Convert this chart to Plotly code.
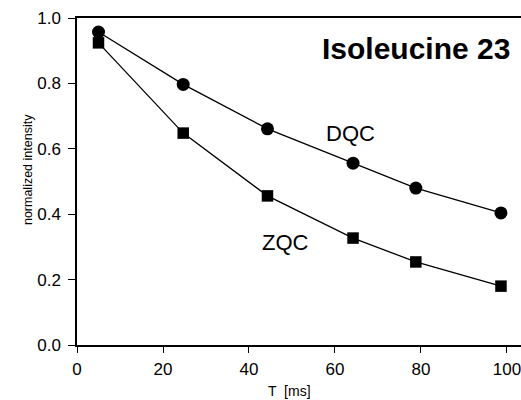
import plotly.graph_objects as go

t_ms = [5, 24.7, 44.3, 64.2, 78.8, 98.6]
dqc = [0.957, 0.797, 0.661, 0.556, 0.480, 0.404]
zqc = [0.924, 0.648, 0.456, 0.327, 0.254, 0.180]

x_ticks = [0, 20, 40, 60, 80, 100]
y_ticks = [0.0, 0.2, 0.4, 0.6, 0.8, 1.0]

FONT = "Liberation Sans, Arial, sans-serif"

fig = go.Figure()
fig.add_trace(go.Scatter(x=t_ms, y=dqc, mode="lines+markers", name="DQC",
                         line=dict(color="black", width=1.3),
                         marker=dict(symbol="circle", size=13, color="black")))
fig.add_trace(go.Scatter(x=t_ms, y=zqc, mode="lines+markers", name="ZQC",
                         line=dict(color="black", width=1.3),
                         marker=dict(symbol="square", size=11.5, color="black")))

fig.update_layout(
    width=521, height=400,
    margin=dict(l=77, r=0, t=18, b=55),
    paper_bgcolor="white", plot_bgcolor="white",
    showlegend=False,
    font=dict(family=FONT, color="black", size=17),
    xaxis=dict(range=[0, 103.26], tickvals=x_ticks, ticks="outside", ticklen=6,
               tickwidth=1.2, tickcolor="black", showline=True, linecolor="black",
               linewidth=1.5, mirror=True, showgrid=False, zeroline=False,
               tickfont=dict(size=17), ticklabeloverflow="allow",
               ticklabelstandoff=2),
    yaxis=dict(range=[0, 1.0], tickvals=y_ticks, tickformat=".1f", ticks="outside",
               ticklen=7, tickwidth=1.2, tickcolor="black", showline=True,
               linecolor="black", linewidth=1.5, showgrid=False, zeroline=False,
               tickfont=dict(size=17), ticklabelstandoff=4),
)

fig.add_annotation(x=101.2, y=0.908, xref="x", yref="y", text="<b>Isoleucine 23</b>",
                   showarrow=False, xanchor="right", yanchor="middle",
                   font=dict(size=30, family=FONT))
fig.add_annotation(x=63.5, y=0.648, xref="x", yref="y", text="DQC",
                   showarrow=False, font=dict(size=22, family=FONT))
fig.add_annotation(x=48.6, y=0.312, xref="x", yref="y", text="ZQC",
                   showarrow=False, font=dict(size=22, family=FONT))
fig.add_annotation(x=-0.1306, y=0.535, xref="paper", yref="paper",
                   text="normalized intensity", textangle=-90, showarrow=False,
                   font=dict(size=12.5, family=FONT))
fig.add_annotation(x=0.4786, y=-0.142, xref="paper", yref="paper",
                   text="T  [ms]", showarrow=False, yanchor="middle",
                   font=dict(size=14, family=FONT))

fig.write_html("out.html")
